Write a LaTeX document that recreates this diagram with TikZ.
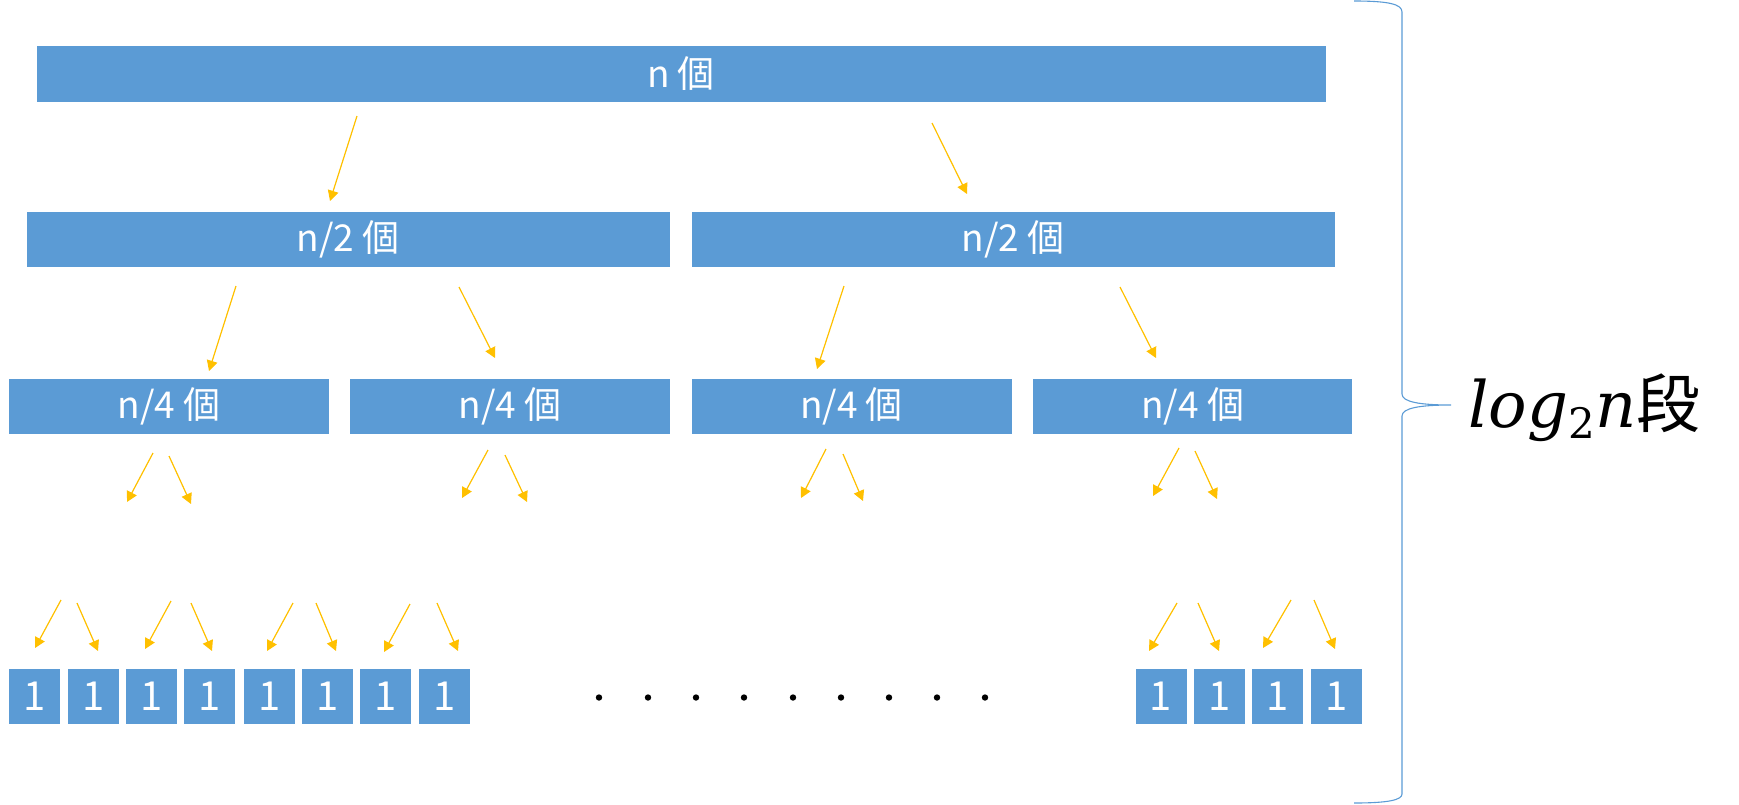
\documentclass[tikz,border=0pt]{standalone}
\usepackage{fontspec}
\newfontfamily\cjk{Noto Sans CJK JP}
\newfontfamily\lblfont{DejaVu Serif}
\usetikzlibrary{arrows.meta}
\definecolor{boxblue}{HTML}{5B9BD5}
\definecolor{arrorange}{HTML}{FFC000}
\tikzset{
  blk/.style 2 args={fill=boxblue, draw=none, inner sep=0pt, text=white,
    minimum width=#1*0.5pt, minimum height=#2*0.5pt,
    font=\cjk\fontsize{18.5}{22}\selectfont},
  unit/.style={blk={51}{55.5}, font=\cjk\fontsize{20}{24}\selectfont},
  arr/.style={draw=arrorange, line width=0.6pt, -{Triangle[length=5.2pt,width=5.4pt]}, fill=arrorange},
  dot/.style={circle, fill=black, inner sep=0pt, minimum size=3.2pt},
  brace/.style={draw=boxblue, line width=0.55pt}
}
\begin{document}
\begin{tikzpicture}[x=0.5pt, y=-0.5pt]
\useasboundingbox (0,0) rectangle (1739,804);
% level 1
\node[blk={1289}{56}] (top) at (681,73.5) {n 個};
% level 2
\node[blk={643}{55}] (h1) at (348.3,239.5) {n/2 個};
\node[blk={642.5}{55}] (h2) at (1013.3,239.5) {n/2 個};
% level 3
\node[blk={320}{55.5}] (q1) at (169,406.7) {n/4 個};
\node[blk={320}{55.5}] (q2) at (510,406.7) {n/4 個};
\node[blk={320}{55.5}] (q3) at (851.5,406.7) {n/4 個};
\node[blk={319}{55.5}] (q4) at (1192.8,406.7) {n/4 個};
% leaves
\foreach \x [count=\i] in {34.5,93.5,151.5,209.5,269.5,327.5,385.5,444.5,1161,1219.5,1277.5,1336.5}
  \node[unit] (u\i) at (\x,696.7) {1};
% dots
\foreach \x [count=\i] in {599,648,696,744,793,841,889,937,985}
  \node[dot] (d\i) at (\x,697.5) {};
% arrows
\foreach \a/\b/\c/\d [count=\i] in {
  357/116/330/201, 932/123/967/194,
  236/286/209/371, 459/287/495/358, 844/286/817/369, 1120/287/1156/358,
  153/453/127/502, 169/456/191/504, 488/450/462/498, 505/455/527/502,
  826/449/801/498, 843/454/863/501, 1179/448/1153/496, 1195/451/1217/499,
  61/600/35/648, 77/603/98/651, 171/601/145/649, 191/603/212/651,
  293/603/267/651, 316/603/336/651, 410/604/384/652, 437/603/458/651,
  1177/603/1149/651, 1198/603/1219/651, 1291/600/1263/648, 1314/600/1335/649}
{
  \coordinate (s\i) at (\a,\b);
  \coordinate (t\i) at (\c,\d);
  \draw[arr] (s\i) -- (t\i);
}
% brace
\coordinate (btop) at (1354,1);
\coordinate (bmid) at (1451,405);
\coordinate (bbot) at (1354,803);
\draw[brace] (btop) .. controls (1388,1) and (1402,4) .. (1402,12)
  -- (1402,394) .. controls (1402,402) and (1420,405) .. (bmid)
  .. controls (1420,405) and (1402,408) .. (1402,416)
  -- (1402,794) .. controls (1402,800) and (1388,803) .. (bbot);
\node[anchor=base west, inner sep=0pt] (lbl) at (1468,427)
  {\lblfont\fontsize{32}{36}\selectfont\itshape log\raisebox{-5.5pt}{\fontsize{21}{24}\selectfont\upshape 2}n\cjk\upshape\fontsize{32}{36}\selectfont 段};
\end{tikzpicture}
\end{document}
